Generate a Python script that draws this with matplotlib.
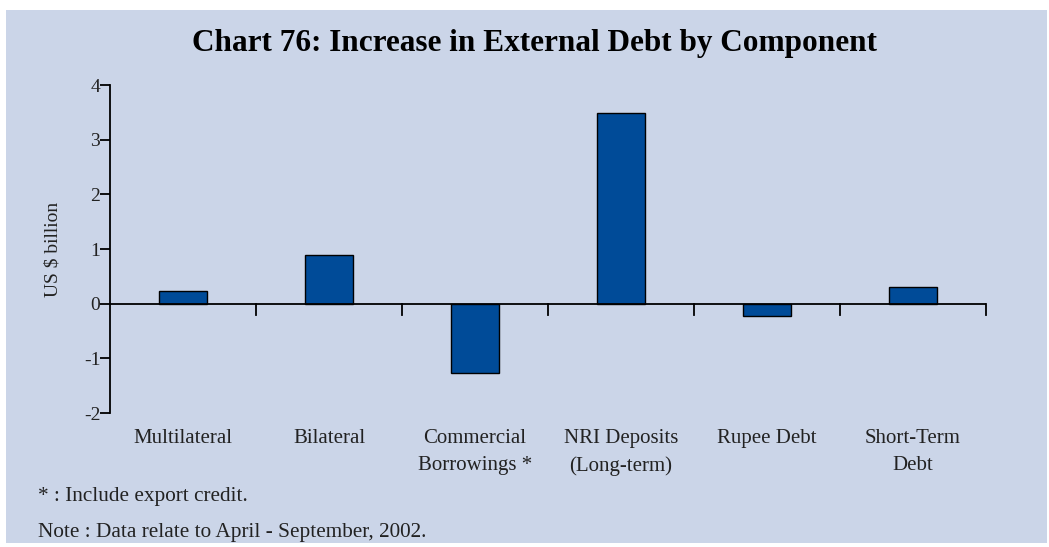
import matplotlib.pyplot as plt
import matplotlib.patches as mpatches

categories = ["Multilateral", "Bilateral", "Commercial\nBorrowings *",
              "NRI Deposits\n(Long-term)", "Rupee Debt", "Short-Term\nDebt"]
values = [0.23, 0.89, -1.26, 3.49, -0.23, 0.30]
yticks = [-2, -1, 0, 1, 2, 3, 4]

BG = "#CBD5E8"
BAR = "#004B98"
W, H = 1049, 547
serif = ["Liberation Serif", "DejaVu Serif"]
TXT = "#222222"

fig = plt.figure(figsize=(W / 100, H / 100), dpi=100)
fig.patch.set_facecolor("white")
fig.patches.append(mpatches.Rectangle((6 / W, 1 - 543 / H), (1047 - 6) / W, (543 - 10) / H,
                                      transform=fig.transFigure, facecolor=BG,
                                      edgecolor="none", zorder=-5))

x0, x1 = 110, 986
y_top, y_bot = 85, 413
ax = fig.add_axes([x0 / W, 1 - y_bot / H, (x1 - x0) / W, (y_bot - y_top) / H], zorder=2)
ax.set_facecolor("none")

n = len(categories)
pos = [i + 0.5 for i in range(n)]
ax.bar(pos, values, width=0.33, color=BAR, edgecolor="black", linewidth=1.0, zorder=3)

ax.set_xlim(0, n)
ax.set_ylim(-2, 4)
ax.set_yticks(yticks)
ax.set_yticklabels([str(t) for t in yticks], fontfamily=serif, fontsize=14, color=TXT)

for s in ["top", "right", "bottom"]:
    ax.spines[s].set_visible(False)
ax.spines["left"].set_linewidth(1.3)
ax.axhline(0, color="black", linewidth=1.3, zorder=4)
ax.tick_params(axis="y", direction="out", length=7, width=1.3, pad=0)
ax.set_xticks([])

# category boundary ticks on zero line
for b in range(1, n + 1):
    ax.plot([b, b], [0, -0.2], color="black", linewidth=1.3, clip_on=False, zorder=4)

for p, c in zip(pos, categories):
    ax.text(p, -2.29, c, ha="center", va="top", fontfamily=serif, fontsize=15,
            color=TXT, linespacing=1.6)

ax.set_ylabel("US $ billion", fontfamily=serif, fontsize=14, color=TXT, labelpad=16)

fig.text(534 / W, 1 - 44 / H, "Chart 76: Increase in External Debt by Component",
         ha="center", va="center", fontfamily=serif, fontsize=22.5, fontweight="bold", color="black")
fig.text(38 / W, 1 - 497 / H, "* : Include export credit.", ha="left", va="center",
         fontfamily=serif, fontsize=15.3, color=TXT)
fig.text(38 / W, 1 - 532 / H, "Note : Data relate to April - September, 2002.", ha="left", va="center",
         fontfamily=serif, fontsize=15.3, color=TXT)

fig.savefig("out.png", dpi=100, facecolor="white")
